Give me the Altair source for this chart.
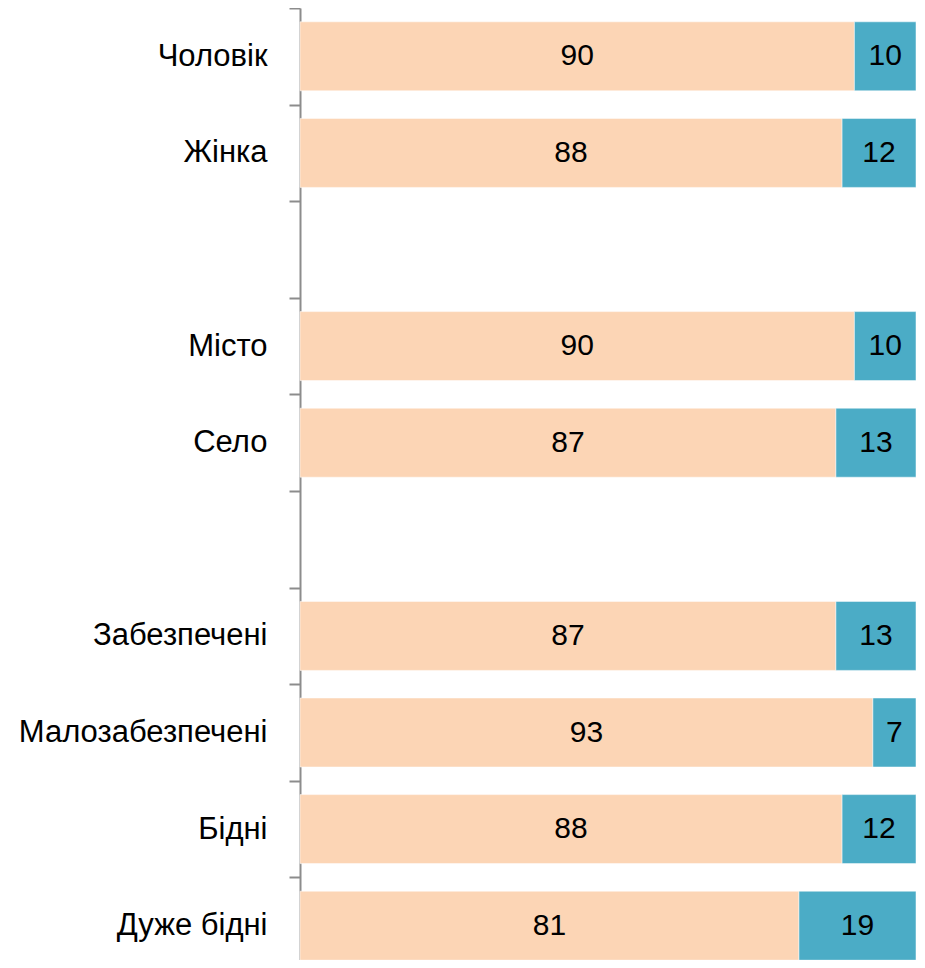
import altair as alt
import pandas as pd

rows = ["Чоловік", "Жінка", " ", "Місто", "Село", "  ", "Забезпечені", "Малозабезпечені", "Бідні", "Дуже бідні"]
groups = ["Чоловік", "Жінка", "Місто", "Село", "Забезпечені", "Малозабезпечені", "Бідні", "Дуже бідні"]
first_vals = [90, 88, 90, 87, 87, 93, 88, 81]
second_vals = [10, 12, 10, 13, 13, 7, 12, 19]
series = ["Так", "Ні"]
colors = ["#FCD5B5", "#4BACC6"]

recs = []
for g, a, b in zip(groups, first_vals, second_vals):
    recs.append({"cat": g, "series": series[0], "order": 0, "value": a})
    recs.append({"cat": g, "series": series[1], "order": 1, "value": b})
df = pd.DataFrame(recs)

FONT = "Liberation Sans"

base = alt.Chart(df).transform_stack(
    stack="value", groupby=["cat"], as_=["x0", "x1"], sort=[alt.SortField("order")]
).transform_calculate(mid="(datum.x0 + datum.x1) / 2")

y = alt.Y(
    "cat:N",
    sort=rows,
    scale=alt.Scale(domain=rows, range=[0, 966], paddingInner=0, paddingOuter=0),
    axis=alt.Axis(
        title=None,
        tickBand="extent",
        tickSize=11,
        tickWidth=2,
        tickColor="#8c8c8c",
        domainColor="#8c8c8c",
        domainWidth=2,
        labelFont=FONT,
        labelFontSize=31,
        labelColor="#000000",
        labelPadding=22,
        labelLimit=400,
    ),
)

bars = base.mark_bar(size=69, stroke="white", strokeWidth=0.5).encode(
    x=alt.X("x0:Q", scale=alt.Scale(domain=[0, 100], nice=False), axis=None),
    x2="x1:Q",
    y=y,
    color=alt.Color("series:N", scale=alt.Scale(domain=series, range=colors), legend=None),
)

labels = base.mark_text(font=FONT, fontSize=30, color="#000000", baseline="middle", align="center").encode(
    x=alt.X("mid:Q", scale=alt.Scale(domain=[0, 100], nice=False), axis=None),
    y=y,
    text=alt.Text("value:Q"),
)

chart = (
    alt.layer(bars, labels)
    .properties(
        width=616,
        height=952,
        padding={"left": 292, "top": 0, "right": 0, "bottom": 0},
        autosize=alt.AutoSizeParams(type="none"),
    )
    .configure_view(stroke=None)
)

chart.save("out.html", embed_options={"renderer": "svg", "actions": False})
